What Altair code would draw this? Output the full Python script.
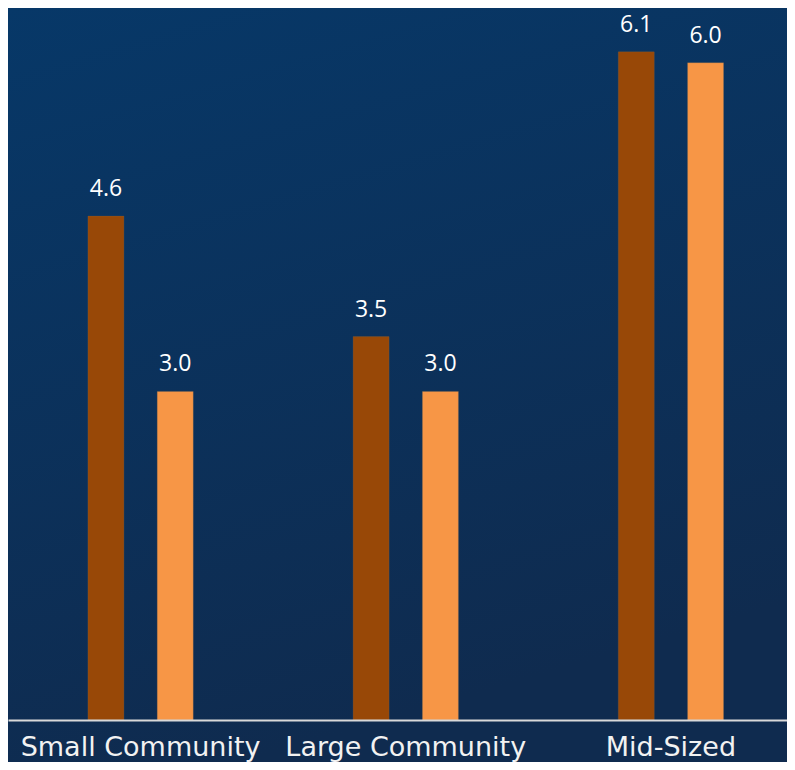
import altair as alt
import pandas as pd

categories = ["Small Community", "Large Community", "Mid-Sized"]
series_names = ["Series 1", "Series 2"]
series1 = [4.6, 3.5, 6.1]
series2 = [3.0, 3.0, 6.0]

rows = []
for i, c in enumerate(categories):
    rows.append({"category": c, "series": series_names[0], "value": series1[i]})
    rows.append({"category": c, "series": series_names[1], "value": series2[i]})
df = pd.DataFrame(rows)

W, H = 779, 712

bg = alt.Chart(alt.Data(values=[{"a": 1}])).mark_rect(
    color={
        "gradient": "linear",
        "x1": 0, "y1": 0, "x2": 0.3, "y2": 1,
        "stops": [
            {"offset": 0, "color": "#073868"},
            {"offset": 1, "color": "#0F2B4F"},
        ],
    }
).encode(
    x=alt.value(0), x2=alt.value(W), y=alt.value(0), y2=alt.value(H + 42)
)

xenc = alt.X(
    "category:N",
    sort=categories,
    scale=alt.Scale(range=[0, 795.5], paddingInner=0.4773, paddingOuter=0.2386),
    axis=alt.Axis(
        title=None,
        ticks=False,
        tickSize=0,
        domainColor="#D9D9D9",
        domainWidth=2,
        labelColor="#F2F2F2",
        labelFont="DejaVu Sans",
        labelFontSize=27,
        labelAngle=0,
        labelBaseline="alphabetic",
        labelPadding=35,
        labelLimit=400,
        grid=False,
        zindex=1,
    ),
)
xoff = alt.XOffset(
    "series:N",
    sort=series_names,
    scale=alt.Scale(paddingInner=0.4805, paddingOuter=0.2403),
)
yenc = alt.Y(
    "value:Q",
    scale=alt.Scale(domain=[0, 6.5], nice=False, zero=True),
    axis=None,
)

bars = alt.Chart(df).mark_bar(strokeWidth=0.5, stroke="#7F6A55", strokeOpacity=0.5).encode(
    x=xenc,
    xOffset=xoff,
    y=yenc,
    color=alt.Color(
        "series:N",
        sort=series_names,
        scale=alt.Scale(domain=series_names, range=["#984807", "#F79646"]),
        legend=None,
    ),
)

labels = alt.Chart(df).mark_text(
    color="#FFFFFF",
    font="Open Sans",
    fontSize=23,
    baseline="alphabetic",
    align="center",
    dy=-20,
).encode(
    x=xenc,
    xOffset=xoff,
    y=yenc,
    text=alt.Text("value:Q", format=".1f"),
)

chart = alt.layer(bg, bars, labels).properties(
    width=W,
    height=H,
    autosize=alt.AutoSizeParams(type="none"),
    padding={"left": 0, "top": 0, "right": 0, "bottom": 42},
    background="#0B3360",
).configure_view(stroke=None)

chart.save("out.html", embed_options={"renderer": "svg", "actions": False})
